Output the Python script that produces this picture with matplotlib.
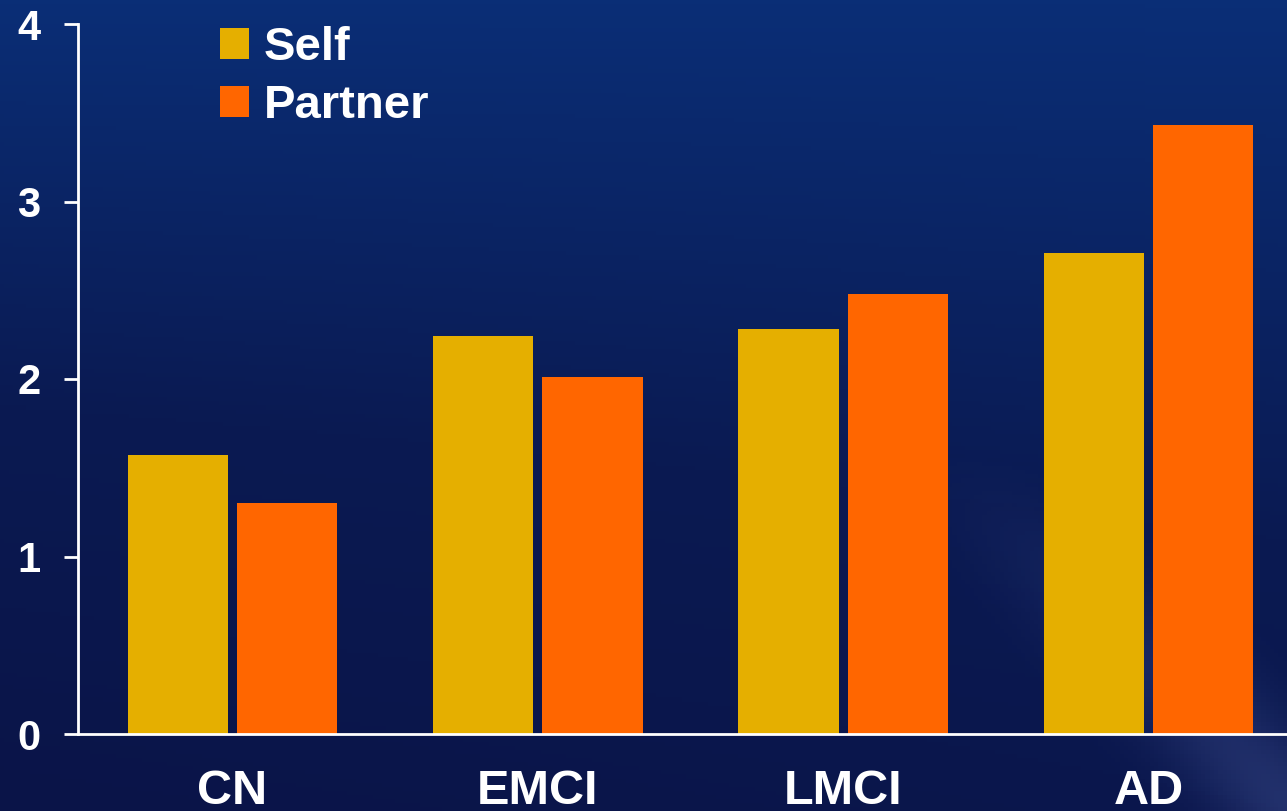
import numpy as np
import matplotlib.pyplot as plt
from matplotlib.colors import LinearSegmentedColormap

# values
groups = ["CN", "EMCI", "LMCI", "AD"]
self_scores = [1.57, 2.24, 2.28, 2.71]
partner_scores = [1.30, 2.01, 2.48, 3.43]
y_ticks = [0, 1, 2, 3, 4]

SELF_COLOR = "#E5AF00"
PARTNER_COLOR = "#FF6600"

plt.rcParams["font.family"] = ["Liberation Sans", "DejaVu Sans"]
plt.rcParams["font.weight"] = "bold"

fig = plt.figure(figsize=(12.87, 8.11), dpi=100)

# dark blue slide background with a soft gradient
bg = fig.add_axes([0, 0, 1, 1], zorder=-1)
bg.axis("off")
yy, xx = np.mgrid[0:1:200j, 0:1:300j]
shade = 0.75 * yy + 0.25 * (1 - xx) * yy
streak = np.exp(-((xx - 0.92) - 0.6 * (yy - 0.85)) ** 2 / 0.004) * np.clip((yy - 0.55) * 2, 0, 1)
bg_cmap = LinearSegmentedColormap.from_list("slide", ["#0a2e76", "#0a1a52", "#0a1448"])
bg.imshow(shade, cmap=bg_cmap, aspect="auto", extent=[0, 1, 1, 0])
bg.imshow(np.dstack([np.full_like(streak, 0.35), np.full_like(streak, 0.42), np.full_like(streak, 0.7), streak * 0.35]),
          aspect="auto", extent=[0, 1, 1, 0])
bg.set_xlim(0, 1)
bg.set_ylim(1, 0)

ax = fig.add_axes([78 / 1287, 77 / 811, 1 - 78 / 1287, (734 - 24) / 811])
ax.patch.set_alpha(0)

x = np.arange(len(groups))
width = 0.328
offset = 0.179
ax.bar(x - offset, self_scores, width, color=SELF_COLOR, label="Self")
ax.bar(x + offset, partner_scores, width, color=PARTNER_COLOR, label="Partner")

ax.set_xlim(-0.506, 3.454)
ax.set_ylim(0, 4)
ax.set_yticks(y_ticks)
ax.set_xticks(x)
ax.set_xticklabels(groups)

for side in ["top", "right"]:
    ax.spines[side].set_visible(False)
for side in ["left", "bottom"]:
    ax.spines[side].set_color("white")
    ax.spines[side].set_linewidth(2)

ax.tick_params(axis="y", colors="white", labelsize=30, length=10, width=2, pad=17)
ax.tick_params(axis="x", colors="white", labelsize=35, length=0, pad=25)
for lbl in ax.get_xticklabels() + ax.get_yticklabels():
    lbl.set_fontweight("bold")

leg = ax.legend(loc="upper left", bbox_to_anchor=(220 / 1287, 1 - 26 / 811),
                bbox_transform=fig.transFigure, frameon=False,
                fontsize=34, handlelength=0.62, handleheight=0.62,
                handletextpad=0.3, labelspacing=0.3, borderpad=0, borderaxespad=0)
for t in leg.get_texts():
    t.set_color("white")
    t.set_fontweight("bold")

fig.savefig("out.png", dpi=100)
